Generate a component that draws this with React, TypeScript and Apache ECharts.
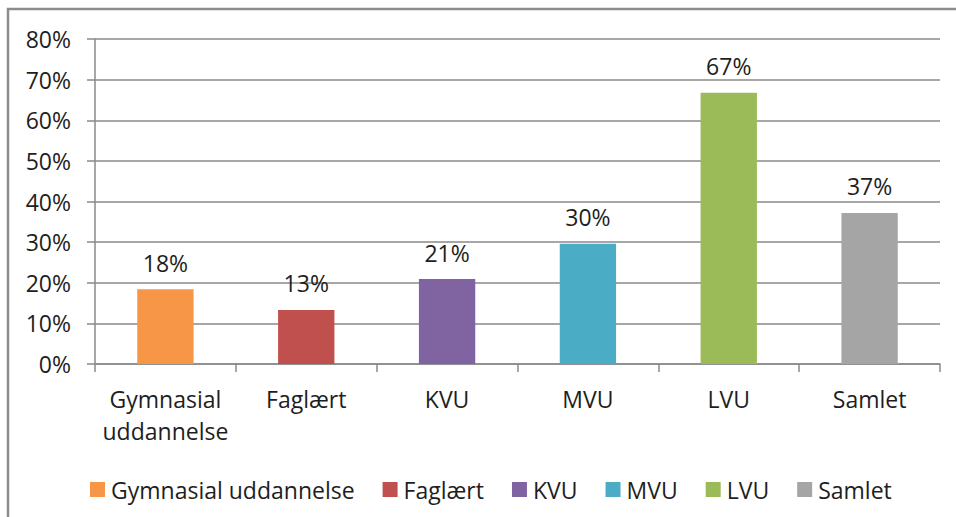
import React, { useEffect, useRef } from "react";
import * as echarts from "echarts";

const categories = ["Gymnasial\nuddannelse", "Faglært", "KVU", "MVU", "LVU", "Samlet"];
const legendNames = ["Gymnasial uddannelse", "Faglært", "KVU", "MVU", "LVU", "Samlet"];
const values = [18.4, 13.3, 20.9, 29.6, 66.8, 37.2];
const colors = ["#F79646", "#C0504D", "#8064A2", "#4BACC6", "#9BBB59", "#A5A5A5"];
const yTicks = [0, 10, 20, 30, 40, 50, 60, 70, 80];

const FONT = "Open Sans";
const FS = 23;
const TXT = "#1e1e1e";
const GRID = "#8a8a8a";

export default function App() {
  const ref = useRef<HTMLDivElement>(null);
  useEffect(() => {
    document.body.style.margin = "0";
    const chart = echarts.init(ref.current!, null, { renderer: "svg" });
    const series = legendNames.map((name, i) => ({
      name,
      type: "bar",
      stack: "all",
      barCategoryGap: "60%",
      itemStyle: { color: colors[i] },
      label: {
        show: true,
        position: "top",
        distance: 15,
        fontFamily: FONT,
        fontSize: FS,
        color: TXT,
        formatter: (p: any) => Math.round(p.value) + "%",
      },
      data: values.map((v, j) => (j === i ? v : "-")),
    }));
    chart.setOption({
      animation: false,
      textStyle: { fontFamily: FONT },
      grid: { left: 95, right: 16, top: 39, bottom: 153 },
      legend: {
        left: 85,
        top: 473,
        itemWidth: 15,
        itemHeight: 15,
        itemGap: 28,
        icon: "rect",
        textStyle: { fontFamily: FONT, fontSize: FS, color: TXT, padding: [0, 0, 0, 1] },
        data: legendNames,
      },
      xAxis: {
        type: "category",
        data: categories,
        axisLine: { lineStyle: { color: GRID, width: 1.5 } },
        axisTick: { show: true, length: 8, lineStyle: { color: GRID, width: 1.5 } },
        axisLabel: {
          interval: 0,
          fontFamily: FONT,
          fontSize: FS,
          color: TXT,
          margin: 19,
          lineHeight: 32,
        },
      },
      yAxis: {
        type: "value",
        min: 0,
        max: 80,
        interval: 10,
        axisLine: { show: true, lineStyle: { color: GRID, width: 1.5 } },
        axisTick: { show: true, length: 8, lineStyle: { color: GRID, width: 1.5 } },
        splitLine: { lineStyle: { color: GRID, width: 1.5 } },
        axisLabel: {
          fontFamily: FONT,
          fontSize: FS,
          color: TXT,
          margin: 24,
          formatter: (v: number) => (yTicks.includes(v) ? v + "%" : ""),
        },
      },
      graphic: [
        {
          type: "rect",
          shape: { x: 8, y: 9, width: 1200, height: 1000 },
          style: { fill: "none", stroke: "#8c8c8c", lineWidth: 2.5 },
          silent: true,
        },
      ],
      series,
    });
    return () => chart.dispose();
  }, []);
  return <div ref={ref} style={{ width: 956, height: 517 }} />;
}
